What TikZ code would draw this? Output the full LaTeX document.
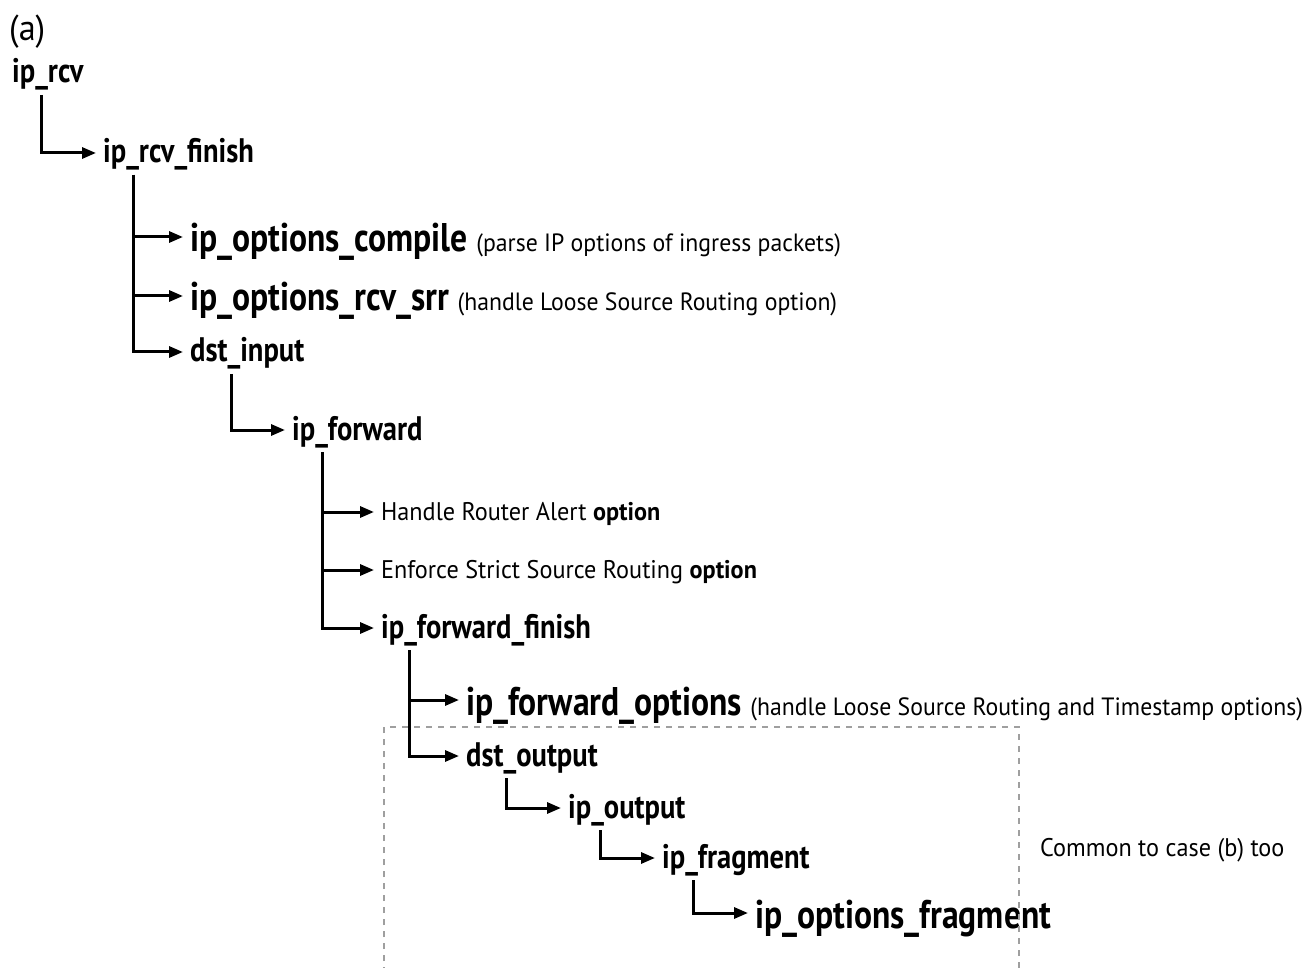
\documentclass[tikz,border=0pt]{standalone}
\usepackage{fontspec}
\setmainfont[FakeStretch=0.84]{PT Sans}
\newfontfamily\descf[FakeStretch=0.95]{PT Sans}
\usetikzlibrary{arrows.meta}
\begin{document}
\begin{tikzpicture}[x=1pt,y=-1pt,
  nm/.style={anchor=base west,inner sep=0pt,font=\bfseries\fontsize{34}{36}\selectfont},
  big/.style={anchor=base west,inner sep=0pt,font=\bfseries\fontsize{40}{42}\selectfont},
  desc/.style={anchor=base west,inner sep=0pt,font=\descf\fontsize{25.5}{28}\selectfont},
  arr/.style={line width=3pt,-{Triangle[length=14pt,width=11pt]},shorten >=7pt},
  box/.style={draw=gray!75,line width=2pt,dash pattern=on 6pt off 6pt}]
\useasboundingbox (0,0) rectangle (1310,968);
\clip (0,0) rectangle (1310,968);
\newcommand{\dsc}[1]{{\descf\mdseries\fontsize{25}{28}\selectfont#1}}
% texts
\node[anchor=base west,inner sep=0pt,font=\descf\fontsize{36}{38}\selectfont] (lab) at (9,41) {(a)};
\node[nm] (rcv) at (12,83) {ip\_rcv};
\node[nm] (fin) at (103,163) {ip\_rcv\_finish};
\node[big] (comp) at (190,252) {ip\_options\_compile \dsc{(parse IP options of ingress packets)}};
\node[big] (srr) at (190,311) {ip\_options\_rcv\_srr \dsc{(handle Loose Source Routing option)}};
\node[nm] (dsti) at (190,362) {dst\_input};
\node[nm] (fwd) at (292,440) {ip\_forward};
\node[desc] (ra) at (381,520) {Handle Router Alert \textbf{option}};
\node[desc] (ssr) at (381,578) {Enforce Strict Source Routing \textbf{option}};
\node[nm] (ff) at (381,638) {ip\_forward\_finish};
\node[big] (fo) at (466,715) {ip\_forward\_options \dsc{(handle Loose Source Routing and Timestamp options)}};
\node[nm] (dsto) at (466,766) {dst\_output};
\node[nm] (out) at (568,818) {ip\_output};
\node[nm] (frag) at (662,868) {ip\_fragment};
\node[big] (ofrag) at (755,928) {ip\_options\_fragment};
\node[desc] (common) at (1040,856) {Common to case (b) too};
% dashed box
\coordinate (bl) at (384,985);
\coordinate (tl) at (384,727);
\coordinate (tr) at (1019,727);
\coordinate (br) at (1019,985);
\draw[box] (bl) -- (tl) -- (tr) -- (br);
% connectors
\draw[arr] ([xshift=29pt,yshift=-12pt]rcv.base west) |- ([yshift=10pt]fin.base west);
\draw[arr] ([xshift=30pt,yshift=-12pt]fin.base west) |- ([yshift=15pt]comp.base west);
\draw[arr] ([xshift=30pt,yshift=-12pt]fin.base west) |- ([yshift=15pt]srr.base west);
\draw[arr] ([xshift=30pt,yshift=-12pt]fin.base west) |- ([yshift=10pt]dsti.base west);
\draw[arr] ([xshift=41pt,yshift=-12pt]dsti.base west) |- ([yshift=10pt]fwd.base west);
\draw[arr] ([xshift=30pt,yshift=-12pt]fwd.base west) |- ([yshift=8pt]ra.base west);
\draw[arr] ([xshift=30pt,yshift=-12pt]fwd.base west) |- ([yshift=8pt]ssr.base west);
\draw[arr] ([xshift=30pt,yshift=-12pt]fwd.base west) |- ([yshift=10pt]ff.base west);
\draw[arr] ([xshift=28pt,yshift=-12pt]ff.base west) |- ([yshift=15pt]fo.base west);
\draw[arr] ([xshift=28pt,yshift=-12pt]ff.base west) |- ([yshift=10pt]dsto.base west);
\draw[arr] ([xshift=40pt,yshift=-12pt]dsto.base west) |- ([yshift=10pt]out.base west);
\draw[arr] ([xshift=32pt,yshift=-12pt]out.base west) |- ([yshift=10pt]frag.base west);
\draw[arr] ([xshift=31pt,yshift=-12pt]frag.base west) |- ([yshift=15pt]ofrag.base west);
\end{tikzpicture}
\end{document}
